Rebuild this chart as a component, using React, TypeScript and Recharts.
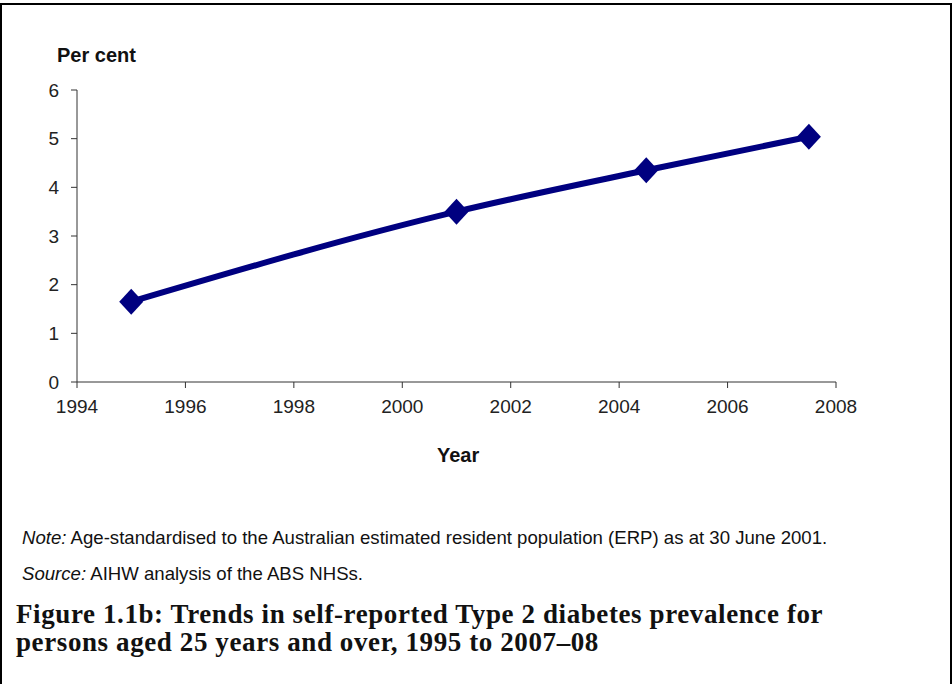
import { LineChart, Line, XAxis, YAxis } from 'recharts';

const years = [1995, 2001, 2004.5, 2007.5];
const prevalence = [1.65, 3.5, 4.35, 5.04];
const xTicks = [1994, 1996, 1998, 2000, 2002, 2004, 2006, 2008];
const yTicks = [0, 1, 2, 3, 4, 5, 6];

const data = years.map((year, i) => ({ year, value: prevalence[i] }));

const NAVY = '#000080';
const AXIS = '#333333';
const SANS = '"Liberation Sans", Arial, sans-serif';

const Diamond = (props: any) => {
  const { cx, cy } = props;
  if (cx == null || cy == null) return null;
  return (
    <polygon
      points={`${cx},${cy - 13} ${cx + 12},${cy} ${cx},${cy + 13} ${cx - 12},${cy}`}
      fill={NAVY}
    />
  );
};

export default function App() {
  return (
    <div style={{ position: 'relative', width: 952, height: 684, background: '#fff', fontFamily: SANS }}>
      <style>{`body{margin:0}`}</style>
      <div style={{ position: 'absolute', left: 0, top: 3, width: 952, height: 2, background: '#000' }} />
      <div style={{ position: 'absolute', left: 0, top: 3, width: 2, height: 681, background: '#000' }} />
      <div style={{ position: 'absolute', left: 950, top: 3, width: 2, height: 681, background: '#000' }} />

      <div style={{ position: 'absolute', left: 57, top: 44, fontSize: 20, fontWeight: 'bold', color: '#111' }}>
        Per cent
      </div>

      <div style={{ position: 'absolute', left: 0, top: 0 }}>
        <LineChart width={952} height={420} data={data} margin={{ top: 90, right: 116, bottom: 0, left: 0 }}>
          <XAxis
            dataKey="year"
            type="number"
            domain={[1994, 2008]}
            ticks={xTicks}
            allowDataOverflow
            stroke={AXIS}
            tickSize={6}
            tickMargin={12}
            height={38}
            tick={{ fill: '#222', fontSize: 19, fontFamily: SANS }}
          />
          <YAxis
            type="number"
            domain={[0, 6]}
            ticks={yTicks}
            width={77}
            stroke={AXIS}
            tickSize={6}
            tickMargin={12}
            tick={{ fill: '#222', fontSize: 19, fontFamily: SANS }}
          />
          <Line
            type="monotone"
            dataKey="value"
            stroke={NAVY}
            strokeWidth={6}
            dot={<Diamond />}
            activeDot={false}
            isAnimationActive={false}
          />
        </LineChart>
      </div>

      <div style={{ position: 'absolute', left: 437, top: 444, fontSize: 20, fontWeight: 'bold', color: '#111' }}>
        Year
      </div>

      <div style={{ position: 'absolute', left: 22, top: 527, fontSize: 18.6, color: '#111', whiteSpace: 'nowrap' }}>
        <i>Note:</i> Age-standardised to the Australian estimated resident population (ERP) as at 30 June 2001.
      </div>
      <div style={{ position: 'absolute', left: 22, top: 563, fontSize: 18.6, color: '#111', whiteSpace: 'nowrap' }}>
        <i>Source:</i> AIHW analysis of the ABS NHSs.
      </div>
      <div
        style={{
          position: 'absolute',
          left: 16,
          top: 600,
          width: 920,
          fontSize: 27,
          lineHeight: '28px',
          letterSpacing: 0.6,
          fontWeight: 'bold',
          fontFamily: '"Liberation Serif", "DejaVu Serif", serif',
          color: '#111',
          whiteSpace: 'nowrap',
        }}
      >
        Figure 1.1b: Trends in self-reported Type 2 diabetes prevalence for
        <br />
        persons aged 25 years and over, 1995 to 2007–08
      </div>
    </div>
  );
}
